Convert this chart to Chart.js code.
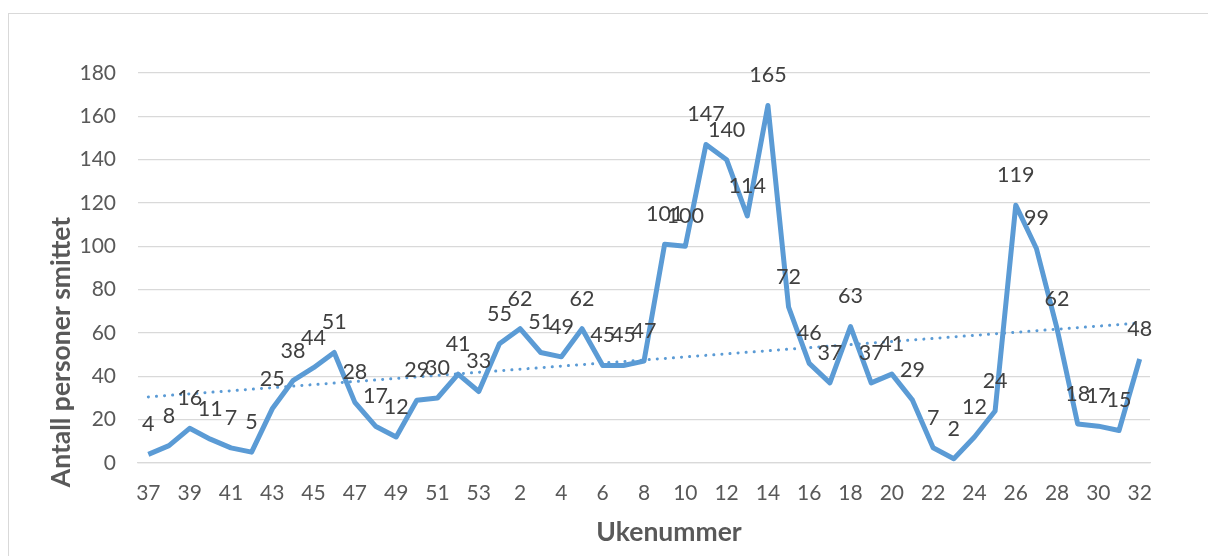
<!DOCTYPE html>
<html>
<head>
<meta charset="utf-8">
<script src="https://cdn.jsdelivr.net/npm/chart.js@4"></script>
<style>
  html, body { margin: 0; padding: 0; background: #fff; overflow: hidden; }
  body { width: 1208px; height: 556px; position: relative; }
  #frame {
    position: absolute; left: 8px; top: 13px; width: 1400px; height: 700px;
    border: 1.3px solid #d9d9d9; box-sizing: border-box;
  }
  #chart { position: absolute; left: 0; top: 0; }
</style>
</head>
<body>
<div id="frame"></div>
<canvas id="chart" width="1208" height="556"></canvas>
<script>
// weeks: 37..53, then 1..32
const weeks = ['37','38','39','40','41','42','43','44','45','46','47','48','49','50','51','52','53',
  '1','2','3','4','5','6','7','8','9','10','11','12','13','14','15','16','17','18','19','20',
  '21','22','23','24','25','26','27','28','29','30','31','32'];

const infected = [4, 8, 16, 11, 7, 5, 25, 38, 44, 51, 28, 17, 12, 29, 30, 41, 33,
  55, 62, 51, 49, 62, 45, 45, 47, 101, 100, 147, 140, 114, 165, 72, 46, 37, 63, 37, 41,
  29, 7, 2, 12, 24, 119, 99, 62, 18, 17, 15, 48];

// linear trendline ends
const trendStart = 30.5;
const trendEnd = 64.6;

const yTitle = 'Antall personer smittet';
const xTitle = 'Ukenummer';

const blue = '#5b9bd5';
const font = 'Lato, "Open Sans", sans-serif';

const dataLabels = {
  id: 'dataLabels',
  afterDatasetsDraw(chart) {
    const ctx = chart.ctx;
    const meta = chart.getDatasetMeta(0);
    ctx.save();
    ctx.font = '21.5px ' + font;
    ctx.fillStyle = '#404040';
    ctx.textAlign = 'center';
    ctx.textBaseline = 'middle';
    meta.data.forEach((pt, i) => {
      ctx.fillText(String(infected[i]), pt.x, pt.y - 30);
    });
    ctx.restore();
  }
};

const axisTitles = {
  id: 'axisTitles',
  afterDraw(chart) {
    const ctx = chart.ctx;
    ctx.save();
    ctx.font = 'bold 26.5px ' + font;
    ctx.fillStyle = '#595959';
    ctx.textAlign = 'center';
    ctx.textBaseline = 'middle';
    ctx.fillText(xTitle, 669, 532);
    ctx.translate(61, 352);
    ctx.rotate(-Math.PI / 2);
    ctx.fillText(yTitle, 0, 0);
    ctx.restore();
  }
};

new Chart(document.getElementById('chart'), {
  type: 'line',
  data: {
    labels: weeks,
    datasets: [
      {
        data: infected,
        borderColor: blue,
        borderWidth: 5,
        borderJoinStyle: 'round',
        pointRadius: 0,
        tension: 0
      },
      {
        data: [{ x: weeks[0], y: trendStart }, { x: weeks[weeks.length - 1], y: trendEnd }],
        borderColor: blue,
        borderWidth: 3,
        borderDash: [0.1, 8],
        borderCapStyle: 'round',
        pointRadius: 0,
        tension: 0
      }
    ]
  },
  options: {
    responsive: false,
    animation: false,
    layout: { padding: { top: 73, right: 58, left: 0, bottom: 0 } },
    plugins: {
      legend: { display: false },
      tooltip: { enabled: false }
    },
    scales: {
      x: {
        offset: true,
        grid: { display: false, drawTicks: false },
        border: { color: '#d9d9d9', width: 1.3 },
        ticks: {
          color: '#595959',
          font: { family: font, size: 21 },
          padding: 18,
          maxRotation: 0,
          autoSkip: false,
          callback: (v, i) => (i % 2 === 0 ? weeks[i] : '')
        },
        afterFit: s => { s.height = 93; }
      },
      y: {
        min: 0,
        max: 180,
        grid: { color: '#d9d9d9', lineWidth: 1.3, drawTicks: false },
        border: { display: false },
        ticks: {
          stepSize: 20,
          color: '#595959',
          font: { family: font, size: 21 },
          padding: 22
        },
        afterFit: s => { s.width = 138; }
      }
    }
  },
  plugins: [dataLabels, axisTitles]
});
</script>
</body>
</html>
